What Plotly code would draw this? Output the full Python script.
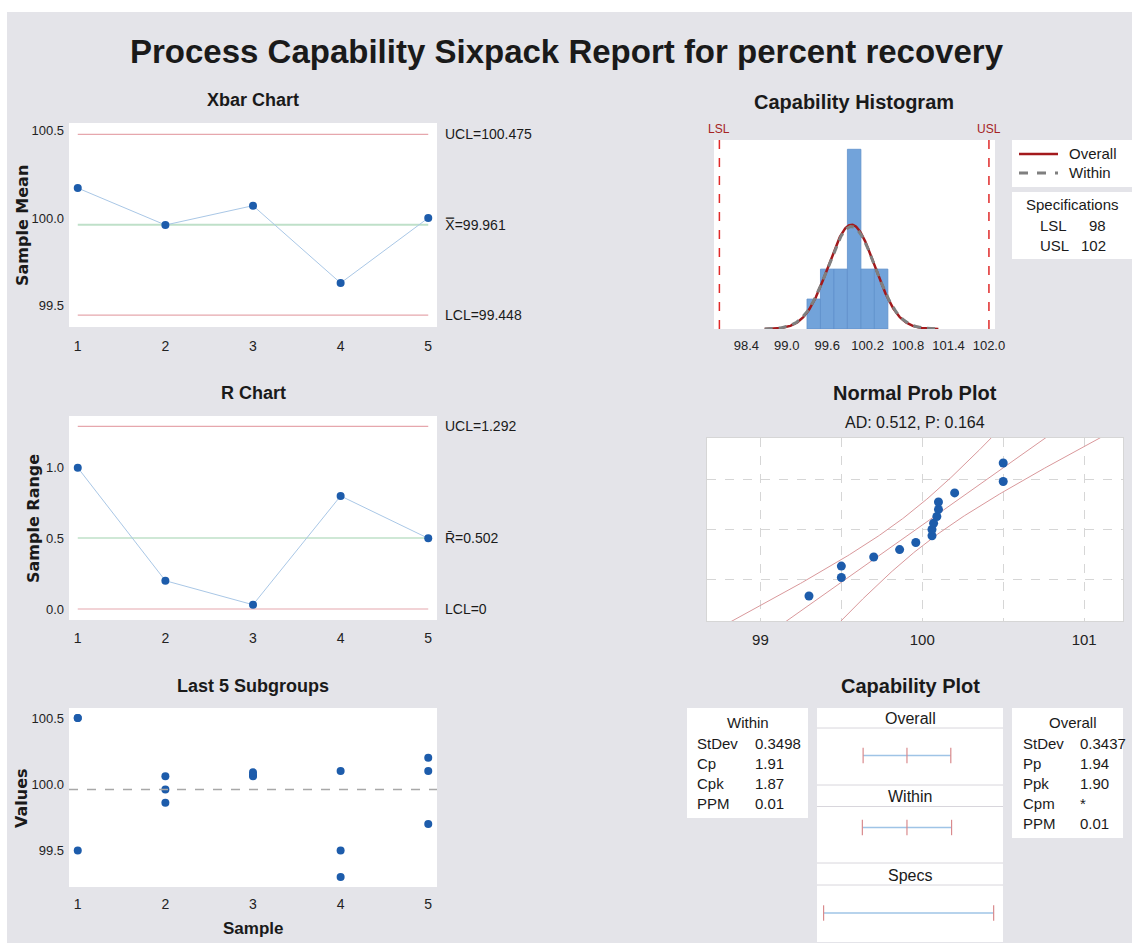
import numpy as np
import plotly.graph_objects as go

W, H = 1132, 943          # reference pixel space used for placement
FIG_W = 1142              # declared width; the page renders it ~10px narrower

# ---------------- data ----------------
samples = [1, 2, 3, 4, 5]
xbar_means = [100.17, 99.96, 100.07, 99.63, 100.00]
sample_ranges = [1.00, 0.20, 0.03, 0.80, 0.50]

last5_sample = [1, 1, 1, 2, 2, 2, 3, 3, 3, 4, 4, 4, 5, 5, 5]
last5_value = [100.5, 100.5, 99.5, 100.06, 99.96, 99.86, 100.06, 100.07, 100.09,
               100.1, 99.5, 99.3, 100.2, 100.1, 99.7]

xbar_ucl, xbar_center, xbar_lcl = 100.475, 99.961, 99.448
r_ucl, r_center, r_lcl = 1.292, 0.502, 0.0

hist_bin_centers = [99.4, 99.6, 99.8, 100.0, 100.2, 100.4]
hist_counts = [1, 2, 2, 6, 2, 2]
hist_bin_width = 0.2
hist_ticks = [98.4, 99.0, 99.6, 100.2, 100.8, 101.4, 102.0]

LSL, USL = 98, 102
process_mean = 99.961
sd_within = 0.3498
sd_overall = 0.3437
n_obs = 15

prob_values = [99.3, 99.5, 99.5, 99.7, 99.86, 99.96, 100.06, 100.06, 100.07,
               100.09, 100.1, 100.1, 100.2, 100.5, 100.5]
prob_z = [-1.69, -1.22, -0.93, -0.70, -0.51, -0.33, -0.16, 0.0, 0.16, 0.33,
          0.51, 0.70, 0.93, 1.22, 1.69]
prob_text = "AD: 0.512, P: 0.164"

within_labels = ["StDev", "Cp", "Cpk", "PPM"]
within_values = ["0.3498", "1.91", "1.87", "0.01"]
overall_labels = ["StDev", "Pp", "Ppk", "Cpm", "PPM"]
overall_values = ["0.3437", "1.94", "1.90", "*", "0.01"]

# ---------------- styles ----------------
BG = "#e4e4e9"
MARK = "#1d5cab"
CONN = "#a9c7e6"
LIMIT = "#e6a7ad"
CENTER = "#bfe0c9"
ARIAL = "Liberation Sans, Arial"
WIDE = "DejaVu Sans, Liberation Sans"


def px(x):
    return min(x / W, 1.0)


def py(y):
    return 1 - y / H


fig = go.Figure()

# Xbar chart
for val in (xbar_ucl, xbar_lcl):
    fig.add_trace(go.Scatter(x=[1, 5], y=[val, val], mode="lines",
                             line=dict(color=LIMIT, width=1.2), xaxis="x", yaxis="y"))
fig.add_trace(go.Scatter(x=[1, 5], y=[xbar_center, xbar_center], mode="lines",
                         line=dict(color=CENTER, width=2), xaxis="x", yaxis="y"))
fig.add_trace(go.Scatter(x=samples, y=xbar_means, mode="lines+markers",
                         line=dict(color=CONN, width=1),
                         marker=dict(color=MARK, size=8), xaxis="x", yaxis="y"))

# R chart
for val in (r_ucl, r_lcl):
    fig.add_trace(go.Scatter(x=[1, 5], y=[val, val], mode="lines",
                             line=dict(color=LIMIT, width=1.2), xaxis="x2", yaxis="y2"))
fig.add_trace(go.Scatter(x=[1, 5], y=[r_center, r_center], mode="lines",
                         line=dict(color=CENTER, width=1.5), xaxis="x2", yaxis="y2"))
fig.add_trace(go.Scatter(x=samples, y=sample_ranges, mode="lines+markers",
                         line=dict(color=CONN, width=1),
                         marker=dict(color=MARK, size=8), xaxis="x2", yaxis="y2"))

# Last 5 subgroups
fig.add_trace(go.Scatter(x=last5_sample, y=last5_value, mode="markers",
                         marker=dict(color=MARK, size=8), xaxis="x3", yaxis="y3"))

# Histogram
fig.add_trace(go.Bar(x=hist_bin_centers, y=hist_counts, width=hist_bin_width,
                     marker=dict(color="#72a3da", line=dict(color="#5f90cc", width=0.8)),
                     xaxis="x4", yaxis="y4"))
xc = np.linspace(process_mean - 3.75 * sd_overall, process_mean + 3.75 * sd_overall, 300)
scale = n_obs * hist_bin_width
y_over = scale * np.exp(-0.5 * ((xc - process_mean) / sd_overall) ** 2) / (sd_overall * np.sqrt(2 * np.pi))
y_with = scale * np.exp(-0.5 * ((xc - process_mean) / sd_within) ** 2) / (sd_within * np.sqrt(2 * np.pi))
fig.add_trace(go.Scatter(x=xc, y=y_over, mode="lines", line=dict(color="#a3191c", width=2.5),
                         xaxis="x4", yaxis="y4"))
fig.add_trace(go.Scatter(x=xc, y=y_with, mode="lines",
                         line=dict(color="#7f7f7f", width=3, dash="8px,6px"),
                         xaxis="x4", yaxis="y4"))

# Normal probability plot
zz = np.linspace(-2.6, 2.6, 200)
fit = process_mean + zz * sd_overall
se = sd_overall * np.sqrt((1 + zz ** 2 / 2) / n_obs)
for xs in (fit - 1.96 * se, fit, fit + 1.96 * se):
    fig.add_trace(go.Scatter(x=xs, y=zz, mode="lines", line=dict(color="#d9989b", width=1),
                             xaxis="x5", yaxis="y5"))
fig.add_trace(go.Scatter(x=prob_values, y=prob_z, mode="markers",
                         marker=dict(color=MARK, size=9), xaxis="x5", yaxis="y5"))

# Capability plot intervals
cap_rows = [
    ([process_mean - 3 * sd_overall, process_mean, process_mean + 3 * sd_overall], 47.5),
    ([process_mean - 3 * sd_within, process_mean, process_mean + 3 * sd_within], 119.5),
    ([LSL, USL], 205),
]
for xs, yv in cap_rows:
    fig.add_trace(go.Scatter(x=[xs[0], xs[-1]], y=[yv, yv], mode="lines",
                             line=dict(color="#9fc4e6", width=1.5), xaxis="x6", yaxis="y6"))
    fig.add_trace(go.Scatter(x=xs, y=[yv] * len(xs), mode="markers",
                             marker=dict(symbol="line-ns", size=11,
                                         line=dict(color="#d98a8d", width=1.2)),
                             xaxis="x6", yaxis="y6"))

axis_common = dict(showgrid=False, zeroline=False, ticks="", showline=False)
TICKF = dict(family=ARIAL, size=14, color="#222222")
YTICKF = dict(family=ARIAL, size=13, color="#222222")

fig.update_layout(
    width=FIG_W, height=H, autosize=False,
    margin=dict(l=0, r=0, t=0, b=0),
    paper_bgcolor=BG, plot_bgcolor="white",
    showlegend=False,
    font=dict(family=ARIAL, color="#1a1a1a"),
    # Xbar
    xaxis=dict(domain=[px(69), px(437)], range=[0.9, 5.1], tickvals=samples, anchor="y",
               tickfont=TICKF, ticklabelstandoff=9, **axis_common),
    yaxis=dict(domain=[py(327), py(123)], range=[99.38, 100.54], tickvals=[99.5, 100.0, 100.5],
               tickformat=".1f", anchor="x", tickfont=YTICKF,
               ticklabelstandoff=4, **axis_common),
    # R
    xaxis2=dict(domain=[px(69), px(437)], range=[0.9, 5.1], tickvals=samples, anchor="y2",
                tickfont=TICKF, ticklabelstandoff=8, **axis_common),
    yaxis2=dict(domain=[py(620), py(416)], range=[-0.078, 1.366], tickvals=[0, 0.5, 1.0],
                tickformat=".1f", anchor="x2", tickfont=YTICKF,
                ticklabelstandoff=4, **axis_common),
    # Last 5
    xaxis3=dict(domain=[px(69), px(437)], range=[0.9, 5.1], tickvals=samples, anchor="y3",
                tickfont=TICKF, ticklabelstandoff=7, **axis_common),
    yaxis3=dict(domain=[py(887), py(708)], range=[99.224, 100.576], tickvals=[99.5, 100.0, 100.5],
                tickformat=".1f", anchor="x3", tickfont=YTICKF,
                ticklabelstandoff=4, **axis_common),
    # Histogram
    xaxis4=dict(domain=[px(714), px(995)], range=[97.92, 102.09], tickvals=hist_ticks,
                tickformat=".1f", anchor="y4", tickfont=dict(size=13, color="#222222"),
                ticklabelstandoff=7, **axis_common),
    yaxis4=dict(domain=[py(329), py(140)], range=[0, 6.31], showticklabels=False, anchor="x4",
                **axis_common),
    # Normal prob
    xaxis5=dict(domain=[px(707), px(1123)], range=[98.67, 101.24],
                tickvals=[99, 99.5, 100, 100.5, 101], ticktext=["99", "", "100", "", "101"],
                showgrid=True, gridcolor="#d6d6d6", griddash="dash", gridwidth=1,
                zeroline=False, ticks="", anchor="y5", tickfont=dict(size=15, color="#222222"),
                ticklabelstandoff=5, showline=True, linecolor="#d6d6d6", mirror=True),
    yaxis5=dict(domain=[py(621), py(438)], range=[-2.326, 2.326],
                tickvals=[-1.2816, 0, 1.2816], showticklabels=False,
                showgrid=True, gridcolor="#d6d6d6", griddash="dash", gridwidth=1,
                zeroline=False, ticks="", anchor="x5",
                showline=True, linecolor="#d6d6d6", mirror=True),
    # Capability plot
    xaxis6=dict(domain=[px(817), px(1003)], range=[97.845, 102.22], showticklabels=False,
                anchor="y6", **axis_common),
    yaxis6=dict(domain=[py(942), py(708)], range=[234, 0], showticklabels=False,
                anchor="x6", **axis_common),
)

shapes = []
ann = []

# white margins (top and left) around the grey panel
shapes.append(dict(type="rect", xref="paper", yref="paper", x0=0, x1=1, y0=py(12), y1=1,
                   fillcolor="white", line=dict(width=0), layer="below"))
shapes.append(dict(type="rect", xref="paper", yref="paper", x0=0, x1=px(7), y0=0, y1=1,
                   fillcolor="white", line=dict(width=0), layer="below"))

# Last5 center line
shapes.append(dict(type="line", xref="x3 domain", yref="y3", x0=0, x1=1, y0=xbar_center,
                   y1=xbar_center, line=dict(color="#a8a8a8", width=1.5, dash="dash")))

# LSL/USL lines
for v, lab in ((LSL, "LSL"), (USL, "USL")):
    shapes.append(dict(type="line", xref="x4", yref="paper", x0=v, x1=v, y0=py(329), y1=py(133),
                       line=dict(color="#e02a2a", width=1.5, dash="dash")))
    ann.append(dict(x=v, y=py(129), xref="x4", yref="paper", text=lab, showarrow=False,
                    font=dict(size=12, color="#a52323"), xanchor="center", yanchor="middle"))

# capability plot separators
for yv in (20, 77, 98.5, 155, 177):
    shapes.append(dict(type="line", xref="x6 domain", yref="y6", x0=0, x1=1, y0=yv, y1=yv,
                       line=dict(color="#d8d6dc", width=1)))


def box(x0, y0, x1, y1):
    shapes.append(dict(type="rect", xref="paper", yref="paper", x0=px(x0), x1=px(x1),
                       y0=py(y1), y1=py(y0), fillcolor="white", line=dict(width=0)))


box(1012, 140, 1132, 187)
box(1012, 192, 1132, 259)
box(687, 708, 808, 818)
box(1012, 708, 1123, 838)

# legend samples
shapes.append(dict(type="line", xref="paper", yref="paper", x0=px(1019), x1=px(1058),
                   y0=py(154), y1=py(154), line=dict(color="#a3191c", width=2.5)))
shapes.append(dict(type="line", xref="paper", yref="paper", x0=px(1019), x1=px(1058),
                   y0=py(173), y1=py(173), line=dict(color="#7f7f7f", width=3, dash="dash")))


def text(x, y, s, size=15, family=ARIAL, xanchor="center", color="#1a1a1a", angle=0):
    ann.append(dict(x=px(x), y=py(y), xref="paper", yref="paper", text=s, showarrow=False,
                    font=dict(size=size, family=family, color=color), xanchor=xanchor,
                    yanchor="middle", textangle=angle))


text(567, 51, "<b>Process Capability Sixpack Report for percent recovery</b>", size=33)
text(253, 100, "<b>Xbar Chart</b>", size=18)
text(253, 393, "<b>R Chart</b>", size=18)
text(253, 686, "<b>Last 5 Subgroups</b>", size=18)
text(854, 102, "<b>Capability Histogram</b>", size=20)
text(915, 393, "<b>Normal Prob Plot</b>", size=20)
text(915, 422, prob_text, size=16)
text(911, 686, "<b>Capability Plot</b>", size=20)

# axis titles
text(23, 226, "<b>Sample Mean</b>", size=16, family=WIDE, angle=-90)
text(33, 519, "<b>Sample Range</b>", size=16, family=WIDE, angle=-90)
text(21, 798, "<b>Values</b>", size=16, family=WIDE, angle=-90)
text(253, 928, "<b>Sample</b>", size=17)


def limit_label(axis_y, val, s):
    ann.append(dict(x=px(443), y=val, xref="paper", yref=axis_y, text=s, showarrow=False,
                    font=dict(size=14, family=ARIAL, color="#1a1a1a"), xanchor="left",
                    yanchor="middle"))


limit_label("y", xbar_ucl, f"UCL={xbar_ucl:.3f}")
limit_label("y", xbar_center, f"X\u033f={xbar_center:.3f}")
limit_label("y", xbar_lcl, f"LCL={xbar_lcl:.3f}")
limit_label("y2", r_ucl, f"UCL={r_ucl:.3f}")
limit_label("y2", r_center, f"R\u0304={r_center:.3f}")
limit_label("y2", r_lcl, "LCL=0")

# histogram legend + specs
text(1067, 154, "Overall", size=15, xanchor="left")
text(1067, 173, "Within", size=15, xanchor="left")
text(1072, 204, "Specifications", size=15)
text(1038, 225, "LSL", size=15, xanchor="left")
text(1108, 225, f"{LSL}", size=15, xanchor="right")
text(1038, 245, "USL", size=15, xanchor="left")
text(1108, 245, f"{USL}", size=15, xanchor="right")

# capability plot headers
for yv, s in ((718, "Overall"), (796, "Within"), (875, "Specs")):
    text(910, yv, s, size=16)

# tables
text(748, 722, "Within", size=15)
for i, (l, v) in enumerate(zip(within_labels, within_values)):
    yy = 743.5 + i * 19.9
    text(695, yy, l, size=15, xanchor="left")
    text(753, yy, v, size=15, xanchor="left")
text(1073, 722, "Overall", size=15)
for i, (l, v) in enumerate(zip(overall_labels, overall_values)):
    yy = 743.5 + i * 19.9
    text(1021, yy, l, size=15, xanchor="left")
    text(1078, yy, v, size=15, xanchor="left")

fig.update_layout(shapes=shapes, annotations=ann)
fig.write_html(
    "out.html",
    config={"displayModeBar": False},
    post_script="document.body.style.margin='0';document.body.style.overflow='hidden';",
)
